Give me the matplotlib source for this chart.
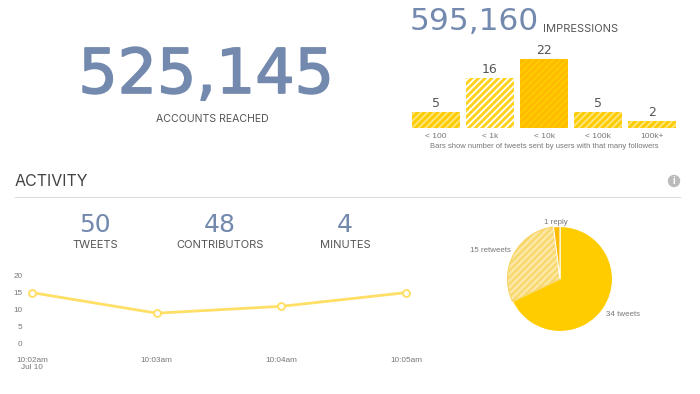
# ================================================================
# 0. Section: IMPORTS
# ================================================================
from matplotlib import patheffects, pyplot as plt
from matplotlib.patches import Ellipse

# ================================================================
# 1. Section: DATA
# ================================================================
FOLLOWER_LABELS = ["< 100", "< 1k", "< 10k", "< 100k", "100k+"]
FOLLOWER_TWEETS = [5, 16, 22, 5, 2]

MINUTE_LABELS = ["10:02am\nJul 10", "10:03am", "10:04am", "10:05am"]
TWEETS_PER_MINUTE = [15, 9, 11, 15]

PIE_LABELS = ["34 tweets", "15 retweets", "1 reply"]
PIE_VALUES = [34, 15, 1]

W, H = 700, 394
BLUE = "#7389AE"
DARK = "#555555"
GREY = "#777777"
GOLD = "#FFCC00"
NUMBER_FONT = "DejaVu Sans"
HEAD_FONT = "Inter"
BODY_FONT = "Liberation Sans"

plt.rcParams["hatch.linewidth"] = 1.3


# ================================================================
# 2. Section: FUNCTIONS
# ================================================================
def axes_px(fig, left, top, right, bottom):
    # axes rectangle from pixel coordinates with origin at top left
    return fig.add_axes([left / W, 1 - bottom / H, (right - left) / W, (bottom - top) / H])


def put_text(fig, x, y, s, size, color=DARK, ha="center", font=HEAD_FONT, weight="normal"):
    return fig.text(x / W, 1 - y / H, s, fontsize=size, color=color, ha=ha, va="center",
                    family=font, weight=weight)


def draw_followers(fig):
    ax = axes_px(fig, 409, 52.8, 679, 127.5)
    fills = [GOLD, "#FFD21F", "#FFBB00", GOLD, GOLD]
    stripes = ["#FFE680", "#FFFFFF", GOLD, "#FFE680", "#FFE680"]
    for i, value in enumerate(FOLLOWER_TWEETS):
        ax.bar(i, value, width=48 / 54, color=fills[i], edgecolor=stripes[i],
               hatch="/////", linewidth=0)
        ax.text(i, value + 0.6, str(value), ha="center", va="bottom", fontsize=9,
                color=DARK, family=NUMBER_FONT)
    ax.set_xlim(-0.5, 4.5)
    ax.set_ylim(0, 24)
    ax.set_xticks(range(len(FOLLOWER_LABELS)), FOLLOWER_LABELS, fontsize=6, color=GREY,
                  family=BODY_FONT)
    ax.tick_params(axis="x", length=0, pad=4)
    ax.set_yticks([])
    for spine in ax.spines.values():
        spine.set_visible(False)


def draw_line(fig):
    ax = axes_px(fig, 32, 275.5, 406, 344)
    x = range(len(TWEETS_PER_MINUTE))
    ax.plot(x, TWEETS_PER_MINUTE, color="#FFDF66", linewidth=2, marker="o", markersize=5,
            markerfacecolor="white", markeredgecolor="#FFDF66", markeredgewidth=1.4,
            clip_on=False)
    ax.set_xlim(0, 3)
    ax.set_ylim(0, 20)
    ax.set_yticks([0, 5, 10, 15, 20])
    ax.set_xticks(list(x), MINUTE_LABELS)
    ax.tick_params(length=0, labelsize=5.9, labelcolor=GREY)
    ax.tick_params(axis="x", pad=9)
    ax.tick_params(axis="y", pad=7)
    for label in ax.get_xticklabels() + ax.get_yticklabels():
        label.set_family(BODY_FONT)
        label.set_linespacing(1.15)
    for spine in ax.spines.values():
        spine.set_visible(False)


def draw_pie(fig):
    ax = axes_px(fig, 507.5, 226.5, 612.5, 331.5)
    wedges, _ = ax.pie(PIE_VALUES, startangle=90, counterclock=False, radius=1,
                       colors=[GOLD, "#FBE7A1", "#FFBB00"],
                       wedgeprops={"edgecolor": "white", "linewidth": 0.8})
    wedges[1].set_hatch("/////")
    wedges[1].set_edgecolor("#F8D566")
    ax.set_xlim(-1, 1)
    ax.set_ylim(-1, 1)
    put_text(fig, 606, 314.5, PIE_LABELS[0], 5.7, GREY, "left", BODY_FONT)
    put_text(fig, 511, 250, PIE_LABELS[1], 5.7, GREY, "right", BODY_FONT)
    put_text(fig, 556, 222, PIE_LABELS[2], 5.7, GREY, "center", BODY_FONT)


# ================================================================
# 3. Section: MAIN
# ================================================================
if __name__ == '__main__':
    fig = plt.figure(figsize=(W / 100, H / 100), dpi=100, facecolor="white")

    # 1. Headline numbers
    big = put_text(fig, 206, 76, "525,145", 44.5, BLUE, font=NUMBER_FONT)
    big.set_path_effects([patheffects.withStroke(linewidth=1.2, foreground=BLUE)])
    put_text(fig, 212, 119, "ACCOUNTS REACHED", 7.6)
    put_text(fig, 410, 22, "595,160", 22.5, BLUE, "left", font=NUMBER_FONT)
    put_text(fig, 543, 29, "IMPRESSIONS", 8, DARK, "left")
    put_text(fig, 544, 147, "Bars show number of tweets sent by users with that many followers",
             5.5, GREY, "center", BODY_FONT)

    # 2. Activity header
    put_text(fig, 15, 181, "ACTIVITY", 11.5, "#444444", "left")
    fig.add_artist(plt.Line2D([15 / W, 680 / W], [1 - 196.5 / H] * 2, color="#DDDDDD", linewidth=0.8))
    fig.add_artist(Ellipse((674 / W, 1 - 181 / H), 11 / W, 11 / H, color="#BBBBBB",
                           transform=fig.transFigure))
    put_text(fig, 674, 181, "i", 7, "white", "center", BODY_FONT, "bold")

    # 3. Activity stats
    for x, number, label in [(95, "50", "TWEETS"), (220, "48", "CONTRIBUTORS"), (345, "4", "MINUTES")]:
        put_text(fig, x, 225, number, 18, BLUE, font=NUMBER_FONT)
        put_text(fig, x, 245, label, 8)

    # 4. Charts
    draw_followers(fig)
    draw_line(fig)
    draw_pie(fig)

    fig.savefig("out.png", dpi=100)
